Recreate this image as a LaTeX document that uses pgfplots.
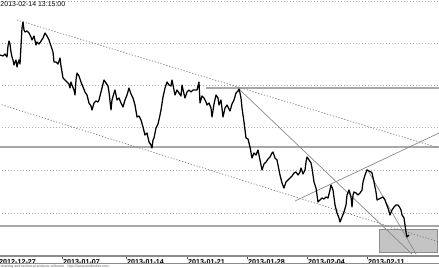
\documentclass[border=0pt]{standalone}
\usepackage{fontspec}
\setmainfont{Liberation Sans}
\usepackage{pgfplots}
\pgfplotsset{compat=1.18}
\definecolor{gridc}{HTML}{B0B0B0}
\definecolor{hline}{HTML}{A8A8A8}
\definecolor{trend}{HTML}{8A8A8A}
\definecolor{chan}{HTML}{7A7A7A}
\definecolor{boxfill}{HTML}{C4C4C4}
\begin{document}
\begin{tikzpicture}
\begin{axis}[
  name=ax,
  scale only axis, width=443bp, height=256bp,
  xmin=-4, xmax=439, ymin=0, ymax=256, y dir=reverse,
  axis line style={draw=none},
  clip=false,
  ytick={1.5,43,85,127,170,213}, yticklabels={},
  ytick style={draw=none},
  ymajorgrids, major grid style={gridc, line width=0.8bp, dash pattern=on 1bp off 2bp},
  xtick={-2,62,126,187,247,307,367},
  xticklabels={2012-12-27,2013-01-07,2013-01-14,2013-01-21,2013-01-28,2013-02-04,2013-02-11},
  xtick pos=bottom,
  major tick length=3bp, tick align=outside,
  xtick style={draw=black!70, line width=0.5bp},
  xticklabel style={anchor=north west, inner sep=0pt, xshift=1bp, yshift=0bp, font=\fontsize{7.2}{8}\selectfont\bfseries},
]
% highlighted zone
\addplot[fill=boxfill, draw=black!45, line width=0.8bp] coordinates {(379,229) (437,229) (437,252) (379,252) (379,229)};
% horizontal support / resistance lines
\addplot[hline, line width=1.6bp] coordinates {(206,88) (439,88)};
\addplot[hline, line width=1.6bp] coordinates {(-4,147) (439,147)};
\addplot[hline, line width=1.6bp] coordinates {(-4,226) (439,226)};
% channel (dotted)
\addplot[chan, line width=0.7bp, dash pattern=on 1.2bp off 1.8bp] coordinates {(17,20) (439,148)};
\addplot[chan, line width=0.7bp, dash pattern=on 1.2bp off 1.8bp] coordinates {(-4,103) (439,242)};
% trend lines (solid)
\addplot[trend, line width=0.7bp] coordinates {(239,89) (412,254)};
\addplot[trend, line width=0.7bp] coordinates {(367,169) (416,254)};
\addplot[trend, line width=0.7bp] coordinates {(295,201) (439,133)};
% price
\addplot[black, line width=1.25bp, line join=round] coordinates {
(0,55)(3,56)(5,54)(7,57)(8,46)(9,41)(10,44)(11,52)(12,57)(13,60)(14,65)(15,62)(16,60)(17,67)(18,63)(19,60)(20,64)
(22,28)(23,22)(24,30)(25,32)(27,31)(29,33)(31,37)(32,40)(34,36)(36,45)(37,42)(39,44)(41,41)(43,38)(45,33)(47,36)(49,40)(51,46)(53,52)(54,62)(56,62)(58,64)(60,58)(61,66)(62,72)(63,78)(65,80)(67,82)(69,84)(70,88)(71,82)(72,85)(74,90)(75,95)(76,80)(77,73)(79,76)(81,82)(83,87)(85,92)(87,95)(89,103)(91,106)(92,110)(94,103)(96,101)(98,102)(99,100)
(101,92)(103,84)(104,80)(106,83)(108,86)(109,92)(111,110)(112,100)(114,93)(115,90)(117,100)(119,98)(121,103)(123,107)(125,100)(127,95)(129,88)(131,94)(133,98)(135,105)(137,117)(139,116)(141,120)(143,127)(145,135)(147,133)(149,142)(151,145)(152,148)(153,140)(154,138)(156,128)(158,124)(160,115)(161,110)(163,97)(165,88)(167,82)(169,85)(171,86)(172,80)(174,90)(175,95)(177,90)(179,93)(181,96)(182,85)(184,94)(185,98)(187,92)(189,90)(191,92)(193,90)(195,90)(197,90)(199,82)(200,103)(202,96)(204,98)(206,102)(207,105)(209,103)(211,108)(212,117)(214,104)(216,95)(218,98)(219,105)(221,100)(223,117)(225,108)(227,105)(229,109)(230,111)(232,104)(234,100)(236,93)(238,91)(239,89)(240,93)(241,98)(242,108)(244,122)(246,138)(248,139)(250,147)(252,158)(254,153)(256,155)(258,150)(260,160)(261,165)(262,170)(264,164)(266,162)(268,159)(270,157)(272,153)(273,152)(275,158)(277,160)(278,165)(280,175)(282,183)(284,188)(286,182)(288,180)(290,178)(292,176)(294,173)(296,172)(298,175)(300,172)(301,168)(303,174)(305,170)(306,162)(307,157)(309,160)(311,163)(312,168)(314,182)(316,188)(318,202)(320,200)(322,198)(324,199)(326,197)(328,198)(330,190)(331,185)(333,190)(335,205)(337,213)(339,218)(340,222)(342,217)(344,212)(346,205)(347,195)(349,190)(351,197)(352,207)(353,195)(354,192)(356,193)(358,195)(360,193)(362,190)(363,182)(365,175)(367,170)(369,171)(371,172)(372,173)(374,182)(376,192)(377,200)(379,199)(381,198)(383,197)(385,200)(386,203)(388,208)(390,215)(392,210)(394,207)(396,205)(398,205)(400,208)(401,210)(402,215)(404,218)(405,225)(406,232)(407,237)(409,235)
};
% axis base lines
\addplot[black!45, line width=1.2bp] coordinates {(-4,256) (439,256)};
\addplot[black!45, line width=0.6bp] coordinates {(-4,263.3) (439,263.3)};
\node[anchor=west, inner sep=0pt, font=\fontsize{7}{8}\selectfont] at (axis cs:0.3,4.5) {2013-02-14 13:15:00};
\node[anchor=west, inner sep=0pt, text=black!60, font=\fontsize{3.6}{4}\selectfont] at (axis cs:0.5,266.4) {charting and technical analysis software\quad http://www.amibroker.com};
\end{axis}
\pgfresetboundingbox
\path[use as bounding box] ([xshift=4bp,yshift=-12bp]ax.south west) rectangle (ax.north east);
\end{tikzpicture}
\end{document}
